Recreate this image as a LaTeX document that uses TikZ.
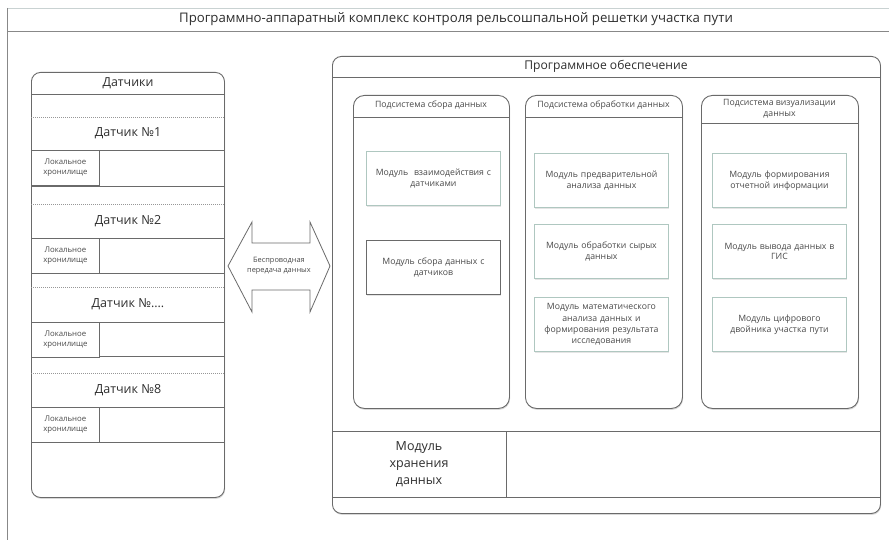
\documentclass[tikz,border=0pt]{standalone}
\usepackage{fontspec}
\setmainfont{Open Sans}
\usetikzlibrary{shadows}
\definecolor{ln}{HTML}{6A6A6A}
\definecolor{lnlight}{HTML}{C9D2D2}
\definecolor{modb}{HTML}{AFC7C0}
\definecolor{txt}{HTML}{2E2E2E}
\definecolor{txtsoft}{HTML}{4A4A4A}
\newcommand\sensdots{....}
\tikzset{
  cont/.style={draw=ln, line width=0.9pt, fill=white, rounded corners=9pt, inner sep=0pt,
    anchor=north west, drop shadow={shadow xshift=0.6pt, shadow yshift=-1.4pt, opacity=0.3}},
  sub/.style={cont, rounded corners=11pt},
  mod/.style={draw=modb, line width=0.9pt, fill=white, anchor=north west, inner sep=0pt,
    minimum width=134, minimum height=54,
    drop shadow={shadow xshift=0.8pt, shadow yshift=-1.2pt, opacity=0.2}},
  modtxt/.style={align=center, text=txtsoft, font=\fontsize{8.7}{10.8}\selectfont, text width=132},
  sline/.style={draw=ln, line width=0.8pt},
  dline/.style={draw=ln!70, line width=0.6pt, dash pattern=on 1pt off 1pt},
  stor/.style={draw=ln, line width=0.8pt, fill=white, anchor=north west, inner sep=0pt,
    minimum width=68, minimum height=35},
  stortxt/.style={align=center, text=txtsoft, font=\fontsize{7.8}{10}\selectfont},
  sname/.style={text=txt, font=\fontsize{12.5}{14}\selectfont},
  subtxt/.style={text=txtsoft, font=\fontsize{8.7}{11}\selectfont, align=center},
}
\begin{document}
\begin{tikzpicture}[x=1pt,y=-1pt]
\useasboundingbox[fill=white] (0,0) rectangle (889,540);
% outer frame
\draw[lnlight, line width=0.8pt] (7,8) -- (889,8);
\draw[ln!80, line width=0.8pt] (7,31) -- (889,31);
\draw[ln!80, line width=0.8pt] (7,8) -- (7,540);
\node[text=txt, font=\fontsize{13.2}{15}\selectfont] (title) at (456,19.5) {Программно-аппаратный комплекс контроля рельсошпальной решетки участка пути};

% sensors container
\node[cont, minimum width=193, minimum height=425] (sens) at (31,72) {};
\node[sname, font=\fontsize{12.4}{14}\selectfont] (senshead) at (128,83) {Датчики};
\draw[sline] (31,94) -- (224,94);
\foreach \s/\b/\c/\n/\k in {117/150/186/1/a, 204/238/273/2/b, 287/322/356/\sensdots/c, 373/407/442/8/d}{
  \draw[dline] (31,\s) -- (224,\s);
  \draw[sline] (31,\b) -- (224,\b);
  \draw[sline] (31,\c) -- (224,\c);
  \node[sname] (sn\k) at (128,{(\s+\b)/2}) {Датчик №\n};
  \node[stor] (st\k) at (31,\b) {};
  \node[stortxt] at (st\k.center) {Локальное\\хронилище};
}

% double arrow
\draw[ln, line width=0.8pt, fill=white, line join=miter]
  (228,266) -- (252,222) -- (252,243) -- (310,243) -- (310,222) -- (330,266)
  -- (310,312) -- (310,290) -- (252,290) -- (252,312) -- cycle;
\node[align=center, text=txtsoft, font=\fontsize{7.4}{10}\selectfont] (wless) at (279,266) {Беспроводная\\передача данных};

% software container
\node[cont, minimum width=548, minimum height=457] (soft) at (332,56) {};
\node[text=txt, font=\fontsize{12.1}{14}\selectfont] (softhead) at (606,66.5) {Программное обеспечение};
\draw[sline] (332,77) -- (880,77);
\draw[sline] (332,431) -- (880,431);
\draw[sline] (332,497) -- (880,497);
\draw[sline] (506,431) -- (506,497);
\node[align=center, text=txt, font=\fontsize{12.5}{17}\selectfont] (store) at (419,464) {Модуль\\хранения\\данных};

% subsystems
\node[sub, minimum width=156, minimum height=313] (sub1) at (353,95) {};
\draw[sline] (353,117) -- (509,117);
\node[subtxt] (sub1h) at (431,105.5) {Подсистема сбора данных};

\node[sub, minimum width=157, minimum height=313] (sub2) at (525,95) {};
\draw[sline] (525,117) -- (682,117);
\node[subtxt] (sub2h) at (603.5,105.5) {Подсистема обработки данных};

\node[sub, minimum width=157, minimum height=313] (sub3) at (701,95) {};
\draw[sline] (701,123) -- (858,123);
\node[subtxt] (sub3h) at (779.5,109) {Подсистема визуализации\\данных};

% modules
\node[mod] (m11) at (366,151) {};
\node[modtxt] at (m11.center) {Модуль\ \ взаимодействия с\\датчиками};
\node[mod, draw=ln] (m12) at (366,240) {};
\node[modtxt] at (m12.center) {Модуль сбора данных с\\датчиков};

\node[mod] (m21) at (534,153) {};
\node[modtxt] at (m21.center) {Модуль предварительной\\анализа данных};
\node[mod] (m22) at (534,224) {};
\node[modtxt] at (m22.center) {Модуль обработки сырых\\данных};
\node[mod] (m23) at (534,297) {};
\node[modtxt, font=\fontsize{8.7}{11.2}\selectfont] at (m23.center) {Модуль математического\\анализа данных и\\формирования результата\\исследования};

\node[mod] (m31) at (712,153) {};
\node[modtxt] at (m31.center) {Модуль формирования\\отчетной информации};
\node[mod] (m32) at (712,224) {};
\node[modtxt] at (m32.center) {Модуль вывода данных в\\ГИС};
\node[mod] (m33) at (712,297) {};
\node[modtxt] at (m33.center) {Модуль цифрового\\двойника участка пути};
\end{tikzpicture}
\end{document}
